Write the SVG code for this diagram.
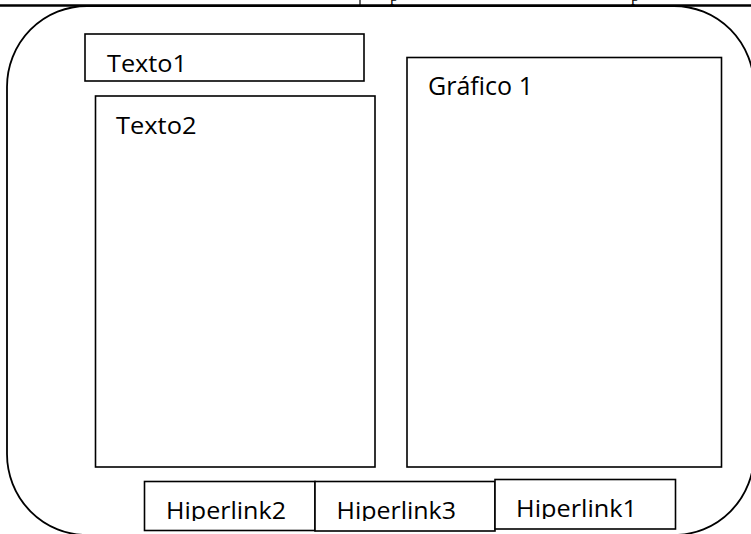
<svg xmlns="http://www.w3.org/2000/svg" width="751" height="534" viewBox="0 0 751 534">
  <style>
    .box { fill: #ffffff; stroke: #000000; stroke-width: 1.6; }
    .frame { fill: none; stroke: #000000; stroke-width: 1.8; }
    .lbl { font-family: "Open Sans", "Liberation Sans", sans-serif; fill: #000000; }
    .cut { font-family: "Liberation Serif", serif; font-size: 16px; fill: #000000; }
  </style>
  <defs>
    <clipPath id="clip-h2"><rect x="145" y="482" width="170" height="39"/></clipPath>
    <clipPath id="clip-h3"><rect x="315" y="482" width="180" height="39"/></clipPath>
    <clipPath id="clip-h1"><rect x="495" y="480" width="180" height="39"/></clipPath>
  </defs>

  <rect x="0" y="0" width="751" height="534" fill="#ffffff"/>

  <!-- table edge along the top -->
  <g id="page-top">
    <line x1="0" y1="5.5" x2="751" y2="5.5" stroke="#000" stroke-width="2.6"/>
    <line x1="360" y1="0" x2="360" y2="5" stroke="#000" stroke-width="1.2"/>
    <text class="cut" x="390" y="0.5">p</text>
    <text class="cut" x="631" y="0.5">p</text>
  </g>

  <!-- page frame -->
  <g id="frame">
    <rect class="frame" x="7" y="6" width="747" height="529" rx="80" ry="81"/>
  </g>

  <g id="texto1">
    <rect class="box" x="85" y="34" width="279" height="47"/>
    <text class="lbl" x="107" y="71.5" font-size="23.5" textLength="80" lengthAdjust="spacingAndGlyphs">Texto1</text>
  </g>

  <g id="texto2">
    <rect class="box" x="95.5" y="96" width="279.5" height="371"/>
    <text class="lbl" x="116" y="134" font-size="23.5" textLength="80.5" lengthAdjust="spacingAndGlyphs">Texto2</text>
  </g>

  <g id="grafico1">
    <rect class="box" x="407" y="57.5" width="314.5" height="409.5"/>
    <text class="lbl" x="428" y="95" font-size="26" textLength="105" lengthAdjust="spacingAndGlyphs">Gráfico 1</text>
  </g>

  <g id="hiperlink2">
    <rect class="box" x="144.5" y="481.5" width="170.5" height="49"/>
    <text class="lbl" x="166" y="519" font-size="24" textLength="120" lengthAdjust="spacingAndGlyphs" clip-path="url(#clip-h2)">Hiperlink2</text>
  </g>

  <g id="hiperlink3">
    <rect class="box" x="315" y="481.5" width="180" height="49.5"/>
    <text class="lbl" x="336.5" y="519" font-size="24" textLength="119.5" lengthAdjust="spacingAndGlyphs" clip-path="url(#clip-h3)">Hiperlink3</text>
  </g>

  <g id="hiperlink1">
    <rect class="box" x="495" y="479.5" width="180.5" height="49.5"/>
    <text class="lbl" x="516" y="517" font-size="24" textLength="121" lengthAdjust="spacingAndGlyphs" clip-path="url(#clip-h1)">Hiperlink1</text>
  </g>
</svg>
